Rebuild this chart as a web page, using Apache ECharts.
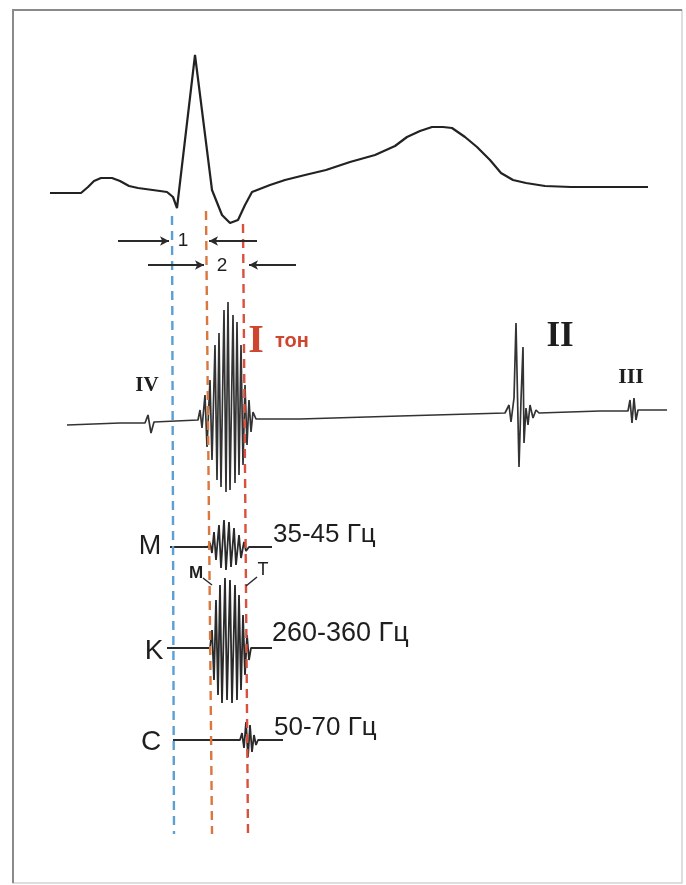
<!DOCTYPE html>
<html>
<head>
<meta charset="utf-8">
<script src="https://cdn.jsdelivr.net/npm/echarts@6/dist/echarts.min.js"></script>
<style>html,body{margin:0;padding:0;background:#fff}#c{width:686px;height:885px}</style>
</head>
<body>
<div id="c"></div>
<script>
// ---- data (time on x, amplitude on y) ----
const ecgTime = [50,81,88,94,101,112,120,129,138,160,167,173,177,195,212,222,230,238,245,252,270,285,305,326,350,375,395,407,420,432,443,452,465,477,490,501,513,526,545,571,600,648];
const ecgAmp  = [-3,-3,3,9,12,12,9,4,2,-1,-2,-7,-18,135,0,-25,-33,-30,-15,-2,5,10,15,20,28,35,44,53,59,63,63,62,53,43,30,17,10,7,4,3,3,3];

const pcgTime = [67,120,145,148,151,154,198,200,202,205,207,210,212,215,217,219,221,224,226,228,230,233,235,237,239,241,243,245,247,249,251,253,256,300,400,505,509,511,514,516,518,519,521,523,524,526,528,530,533,536,539,600,628,630,632,634,636,638,667];
const pcgAmp  = [-7,-5,-5,3,-15,-4,-2,8,-10,23,-29,38,-42,73,-62,85,-69,108,-74,116,-72,103,-65,96,-57,73,-47,33,-27,18,-14,6,-1,-1,2,5,13,-4,20,95,-2,-49,18,71,-25,10,-7,13,0,8,5,7,7,18,-5,20,-2,8,8];

const mTime = [170,208,210,212,214,216,219,221,224,226,229,231,234,236,239,241,244,246,249,272];
const mAmp  = [0,0,4,-6,15,-13,22,-21,27,-23,25,-20,19,-18,12,-11,5,-4,0,0];

const kTime = [167,210,212,214,216,218,220,222,225,227,230,232,235,237,239,241,243,245,247,249,251,272];
const kAmp  = [0,0,18,-32,48,-47,63,-55,70,-52,68,-55,63,-52,53,-42,33,-27,13,-12,0,0];

const cTime = [173,240,242,244,246,248,250,252,254,256,258,283];
const cAmp  = [0,0,7,-8,18,-17,15,-12,5,-5,0,0];

const roman = ['IV','I','II','III'];
const toneWord = 'тон';
const leadNames = ['M','K','C'];
const bandLabels = ['35-45 Гц','260-360 Гц','50-70 Гц'];
const subLabels = ['М','Т'];
const intervalNames = ['1','2'];

// ---- layout (pixel-space positions of baselines and annotations) ----
const base = {ecg:190, pcg:418, m:547, k:648, c:740};
function pts(t, a, b){ return t.map((x,i)=>[x, b - a[i]]); }

function trace(name, data, color, width){
  return {type:'line', name, data, showSymbol:false, smooth:false, silent:true,
    lineStyle:{color, width}, z:3, animation:false};
}

const dashed = [
  {from:[172,216], to:[174,834], color:'#5b9fd3'},
  {from:[206,211], to:[212,834], color:'#d9773e'},
  {from:[243,224], to:[248,834], color:'#d9503e'}
];
const arrows = [
  {from:[118,241], to:[169,241]},
  {from:[257,241], to:[209,241]},
  {from:[148,265], to:[204,265]},
  {from:[296,265], to:[249,265]}
];
const pointers = [
  {from:[203,578], to:[212,585]},
  {from:[257,577], to:[246,586]}
];

const SERIF = 'Liberation Serif', SANS = 'Liberation Sans', INK = '#1e1e1e', RED = '#cf4630';
const texts = [
  {t:roman[0], p:[147,386], size:21, font:SERIF, color:INK, weight:'bold'},
  {t:roman[1], p:[256,342], size:40, font:SERIF, color:RED, weight:'bold'},
  {t:toneWord, p:[292,341], size:20, font:SANS, color:RED, weight:'bold'},
  {t:roman[2], p:[560,337], size:35, font:SERIF, color:INK, weight:'bold'},
  {t:roman[3], p:[631,377], size:22, font:SERIF, color:INK, weight:'bold'},
  {t:leadNames[0], p:[150,547], size:27, font:SANS, color:INK, weight:'normal'},
  {t:leadNames[1], p:[154,651], size:28, font:SANS, color:INK, weight:'normal'},
  {t:leadNames[2], p:[151,742], size:28, font:SANS, color:INK, weight:'normal'},
  {t:bandLabels[0], p:[273,535], size:26, font:SANS, color:INK, weight:'normal', left:true},
  {t:bandLabels[1], p:[272,634], size:27, font:SANS, color:INK, weight:'normal', left:true},
  {t:bandLabels[2], p:[274,728], size:26, font:SANS, color:INK, weight:'normal', left:true},
  {t:subLabels[0], p:[196,573], size:17, font:SANS, color:INK, weight:'bold'},
  {t:subLabels[1], p:[263,570], size:18, font:SANS, color:INK, weight:'normal'},
  {t:intervalNames[0], p:[183,241], size:19, font:SANS, color:INK, weight:'normal'},
  {t:intervalNames[1], p:[222,266], size:19, font:SANS, color:INK, weight:'normal'}
];

const chart = echarts.init(document.getElementById('c'), null, {renderer:'canvas'});
const series = [
  trace('ECG', pts(ecgTime, ecgAmp, base.ecg), '#222', 2.2),
  trace('PCG', pts(pcgTime, pcgAmp, base.pcg), '#333', 1.7),
  trace('M', pts(mTime, mAmp, base.m), '#2a2a2a', 1.8),
  trace('K', pts(kTime, kAmp, base.k), '#2a2a2a', 1.8),
  trace('C', pts(cTime, cAmp, base.c), '#2a2a2a', 1.8),
  {type:'line', data:[], silent:true, animation:false,
    markLine:{silent:true, animation:false, symbol:['none','none'], label:{show:false},
      data: dashed.map(d=>[{coord:d.from, lineStyle:{color:d.color, type:[9,6], width:2.4}},{coord:d.to}])}},
  {type:'line', data:[], silent:true, animation:false,
    markLine:{silent:true, animation:false, symbol:['none','arrow'], symbolSize:[7,9], label:{show:false},
      lineStyle:{color:'#2a2a2a', type:'solid', width:2.2},
      data: arrows.map(d=>[{coord:d.from},{coord:d.to}])}},
  {type:'line', data:[], silent:true, animation:false,
    markLine:{silent:true, animation:false, symbol:['none','none'], label:{show:false},
      lineStyle:{color:'#2a2a2a', type:'solid', width:1.5},
      data: pointers.map(d=>[{coord:d.from},{coord:d.to}])}},
  {type:'scatter', symbolSize:0, silent:true, animation:false, z:5,
    itemStyle:{opacity:1},
    data: texts.map(o=>({value:o.p, label:{show:true, formatter:o.t, position:'inside',
      align:o.left?'left':'center', verticalAlign:'middle', fontSize:o.size, fontFamily:o.font,
      color:o.color, fontWeight:o.weight, opacity:1}}))}
];

chart.setOption({
  backgroundColor:'#ffffff',
  animation:false,
  grid:{left:0, right:0, top:0, bottom:0},
  xAxis:{type:'value', min:0, max:686, show:false},
  yAxis:{type:'value', min:0, max:885, inverse:true, show:false},
  graphic:[
    {type:'rect', shape:{x:13, y:10, width:669, height:873}, style:{fill:'none', stroke:'#d4d4d4', lineWidth:1.5}, z:-1},
    {type:'polyline', shape:{points:[[13,883],[13,10],[682,10]]}, style:{fill:'none', stroke:'#8a8a8a', lineWidth:2}, z:-1}
  ],
  series
});
</script>
</body>
</html>
